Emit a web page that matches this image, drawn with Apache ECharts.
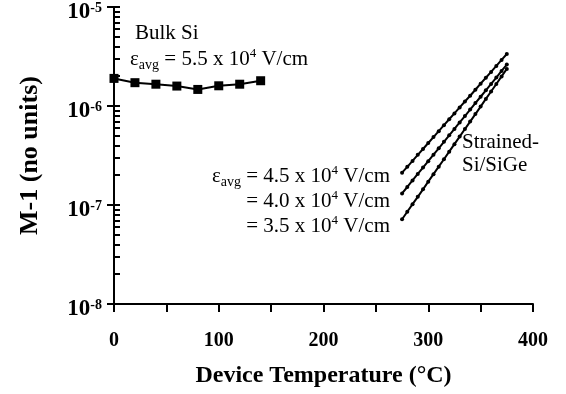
<!DOCTYPE html>
<html>
<head>
<meta charset="utf-8">
<script src="https://cdn.jsdelivr.net/npm/echarts@6/dist/echarts.min.js"></script>
<style>
  html, body { margin: 0; padding: 0; background: #fff; }
  #main { width: 566px; height: 394px; }
</style>
</head>
<body>
<div id="main"></div>
<script>
// bulk Si, 5.5e4 V/cm
const bulkTemp = [0, 20, 40, 60, 80, 100, 120, 140];
const bulkM1 = [1.9e-6, 1.72e-6, 1.66e-6, 1.59e-6, 1.47e-6, 1.6e-6, 1.66e-6, 1.8e-6];

// strained Si/SiGe
const strainedTemp = [275, 280, 285, 290, 295, 300, 305, 310, 315, 320, 325,
  330, 335, 340, 345, 350, 355, 360, 365, 370, 375];
const strained45 = [2.12e-7, 2.43e-7, 2.79e-7, 3.21e-7, 3.68e-7, 4.23e-7, 4.85e-7,
  5.57e-7, 6.40e-7, 7.35e-7, 8.42e-7, 9.67e-7, 1.11e-6, 1.27e-6, 1.46e-6, 1.68e-6,
  1.93e-6, 2.21e-6, 2.54e-6, 2.92e-6, 3.35e-6];
const strained40 = [1.31e-7, 1.52e-7, 1.77e-7, 2.06e-7, 2.39e-7, 2.77e-7, 3.22e-7,
  3.74e-7, 4.35e-7, 5.05e-7, 5.87e-7, 6.82e-7, 7.92e-7, 9.20e-7, 1.07e-6, 1.24e-6,
  1.44e-6, 1.67e-6, 1.94e-6, 2.26e-6, 2.62e-6];
const strained35 = [7.18e-8, 8.55e-8, 1.02e-7, 1.21e-7, 1.44e-7, 1.72e-7, 2.05e-7,
  2.44e-7, 2.90e-7, 3.46e-7, 4.12e-7, 4.91e-7, 5.85e-7, 6.96e-7, 8.29e-7, 9.87e-7,
  1.18e-6, 1.40e-6, 1.67e-6, 1.99e-6, 2.37e-6];

const xTickLabels = [0, 100, 200, 300, 400];
const yMinorTicks = [
  1e-8, 2e-8, 3e-8, 4e-8, 5e-8, 6e-8, 7e-8, 8e-8, 9e-8,
  1e-7, 2e-7, 3e-7, 4e-7, 5e-7, 6e-7, 7e-7, 8e-7, 9e-7,
  1e-6, 2e-6, 3e-6, 4e-6, 5e-6, 6e-6, 7e-6, 8e-6, 9e-6, 1e-5
];

const zip = (xs, ys) => xs.map((x, i) => [x, ys[i]]);
const serif = "'Liberation Serif', 'Times New Roman', serif";

const myChart = echarts.init(document.getElementById('main'));

const annRich = {
  t: { fontFamily: serif, fontSize: 21, color: '#000', lineHeight: 25 },
  sub: { fontFamily: serif, fontSize: 14, color: '#000', verticalAlign: 'bottom' },
  sup: { fontFamily: serif, fontSize: 13, color: '#000', verticalAlign: 'top' }
};

const strainedSeries = (data) => ({
  type: 'line',
  data,
  symbol: 'circle',
  symbolSize: 4,
  showSymbol: true,
  lineStyle: { color: '#000', width: 2 },
  itemStyle: { color: '#000' }
});

const option = {
  backgroundColor: '#fff',
  animation: false,
  grid: { left: 114, right: 33, top: 7, bottom: 90, outerBoundsMode: 'none' },
  xAxis: {
    type: 'value',
    min: 0,
    max: 400,
    interval: 50,
    name: 'Device Temperature (°C)',
    nameLocation: 'middle',
    nameGap: 60,
    nameTextStyle: { fontFamily: serif, fontSize: 24, fontWeight: 'bold', color: '#000' },
    axisLine: { show: true, lineStyle: { color: '#000', width: 2 } },
    axisTick: { show: true, length: 8, lineStyle: { color: '#000', width: 2 } },
    axisLabel: {
      customValues: xTickLabels,
      margin: 27,
      fontFamily: serif, fontSize: 20, fontWeight: 'bold', color: '#000'
    },
    splitLine: { show: false }
  },
  yAxis: [{
    type: 'log',
    min: 1e-8,
    max: 1e-5,
    logBase: 10,
    name: 'M-1 (no units)',
    nameLocation: 'middle',
    nameRotate: 90,
    nameGap: 71,
    nameTextStyle: { fontFamily: serif, fontSize: 26, fontWeight: 'bold', color: '#000' },
    axisLine: { show: true, lineStyle: { color: '#000', width: 2 } },
    axisTick: { show: true, length: 7, lineStyle: { color: '#000', width: 2 } },
    axisLabel: {
      margin: 12,
      padding: [10, 0, 0, 0],
      formatter: (v) => '{b|10}{s|' + Math.round(Math.log10(v)) + '}',
      rich: {
        b: { fontFamily: serif, fontSize: 23, fontWeight: 'bold', color: '#000', lineHeight: 22 },
        s: { fontFamily: serif, fontSize: 14, fontWeight: 'bold', color: '#000', verticalAlign: 'top' }
      }
    },
    splitLine: { show: false }
  }, {
    type: 'log',
    min: 1e-8,
    max: 1e-5,
    logBase: 10,
    position: 'left',
    axisLine: { show: false },
    axisTick: {
      show: true, inside: true, length: 6,
      customValues: yMinorTicks,
      lineStyle: { color: '#000', width: 2 }
    },
    axisLabel: { show: false },
    splitLine: { show: false }
  }],
  series: [
    {
      type: 'line',
      data: zip(bulkTemp, bulkM1),
      symbol: 'rect',
      symbolSize: 9,
      lineStyle: { color: '#000', width: 2 },
      itemStyle: { color: '#000' }
    },
    strainedSeries(zip(strainedTemp, strained45)),
    strainedSeries(zip(strainedTemp, strained40)),
    strainedSeries(zip(strainedTemp, strained35))
  ],
  graphic: [
    { type: 'text', left: 135, top: 23, style: { text: 'Bulk Si', font: "21px 'Liberation Serif', serif", fill: '#000' } },
    {
      type: 'text', left: 130, top: 47,
      style: { text: '{t|ε}{sub|avg}{t| = 5.5 x 10}{sup|4}{t| V/cm}', rich: annRich }
    },
    {
      type: 'text', right: 176, top: 164,
      style: { text: '{t|ε}{sub|avg}{t| = 4.5 x 10}{sup|4}{t| V/cm}', rich: annRich }
    },
    {
      type: 'text', right: 176, top: 189,
      style: { text: '{t|= 4.0 x 10}{sup|4}{t| V/cm}', rich: annRich }
    },
    {
      type: 'text', right: 176, top: 214,
      style: { text: '{t|= 3.5 x 10}{sup|4}{t| V/cm}', rich: annRich }
    },
    {
      type: 'text', left: 462, top: 131,
      style: { text: 'Strained-\nSi/SiGe', font: "21px 'Liberation Serif', serif", fill: '#000', lineHeight: 23 }
    }
  ]
};

myChart.setOption(option);
</script>
</body>
</html>
